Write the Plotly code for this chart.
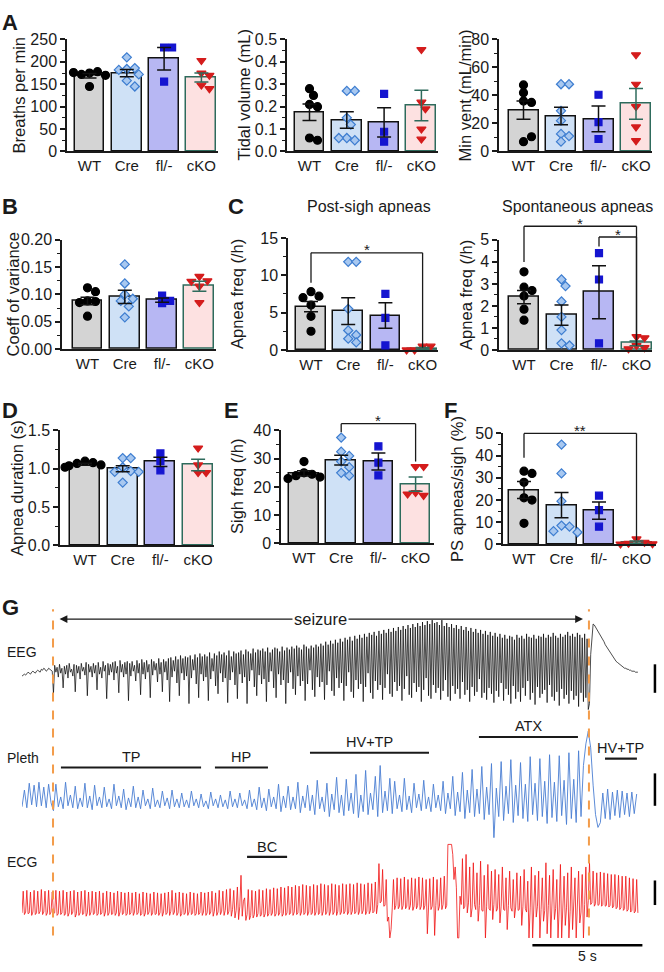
import plotly.graph_objects as go

# ---------------- data ----------------
groups = ["WT", "Cre", "fl/-", "cKO"]

breaths = [[175, 178, 172, 170, 176, 145], [210, 184, 186, 182, 172, 158, 145],
           [232, 232, 156], [203, 175, 170, 148, 140]]
breaths_mean = [169, 175, 207, 165]
breaths_sem = [5, 8, 25, 10]

tidal = [[0.28, 0.25, 0.21, 0.20, 0.06, 0.05], [0.27, 0.27, 0.15, 0.12, 0.06, 0.05, 0.06],
         [0.257, 0.088, 0.044], [0.455, 0.22, 0.19, 0.10, 0.055]]
tidal_mean = [0.175, 0.14, 0.13, 0.205]
tidal_sem = [0.037, 0.037, 0.065, 0.068]

minvent = [[42, 47.5, 36, 35, 7, 10.5], [48, 48, 29, 22, 12.5, 11, 7],
           [40.5, 21, 8.9], [69, 48, 32, 17.5, 7.7]]
minvent_mean = [29.5, 25.3, 23.2, 34]
minvent_sem = [6.5, 6.3, 9.2, 11]

coeff = [[0.112, 0.105, 0.088, 0.087, 0.085, 0.060], [0.155, 0.12, 0.10, 0.092, 0.088, 0.078, 0.058],
         [0.098, 0.088, 0.084], [0.133, 0.125, 0.124, 0.115, 0.085]]
coeff_mean = [0.088, 0.0955, 0.0895, 0.115]
coeff_sem = [0.007, 0.012, 0.004, 0.009]

ps_apnea = [[7.8, 7.2, 7.0, 6.0, 4.5, 2.5], [11.8, 11.8, 5.5, 2.6, 2.0, 1.5, 1.0],
            [7.5, 4.3, 0.6], [0.5, 0.5, 0.0, 0.0, 0.0]]
ps_apnea_mean = [5.8, 5.2, 4.6, 0.2]
ps_apnea_sem = [0.7, 1.8, 1.7, 0.12]

sp_apnea = [[3.55, 2.85, 2.7, 2.45, 1.85, 1.35], [3.2, 2.9, 2.2, 1.5, 0.9, 0.3, 0.2],
            [4.4, 3.2, 0.3], [0.6, 0.55, 0.2, 0.1, 0.05]]
sp_apnea_mean = [2.4, 1.58, 2.62, 0.3]
sp_apnea_sem = [0.3, 0.46, 1.2, 0.11]

duration = [[1.10, 1.08, 1.07, 1.05, 1.04, 1.02], [1.14, 1.14, 1.02, 0.97, 0.96, 0.96, 0.82],
            [1.2, 1.1, 0.98], [1.27, 1.05, 0.95, 0.95]]
duration_mean = [1.06, 1.0, 1.09, 1.05]
duration_sem = [0.013, 0.04, 0.06, 0.075]

sigh = [[29, 25, 24.5, 24, 23.5, 23], [37.5, 32.5, 31, 29, 27, 25, 24],
        [34.4, 28.6, 24.1], [27.2, 27.2, 18, 17, 17.5]]
sigh_mean = [24.8, 29.5, 29, 21]
sigh_sem = [0.9, 1.7, 3, 2.5]

ps_ratio = [[33, 32, 28, 21, 20, 9.5], [45, 32, 19.5, 8.5, 8, 6, 5.5],
            [22, 15.5, 8], [2.5, 1, 0.5, 0.3, 0.2]]
ps_ratio_mean = [24.5, 17.7, 15.2, 1.0]
ps_ratio_sem = [3.8, 5.7, 3.9, 0.5]

# significance: (panel, group a, group b, bracket top, left leg end, right leg end, label)
brackets = [(4, 0, 3, 13.0, 9.0, 0.3, "*"),
            (5, 0, 3, 5.62, 4.0, 0.2, "*"),
            (5, 2, 3, 5.13, 4.7, 0.2, "*"),
            (7, 1, 3, 42.4, 39.4, 29, "*"),
            (8, 0, 3, 50, 39, 2, "**")]

# G: recordings (EEG and ECG sampled every fine_dt, pleth every pleth_dt seconds)
fine_dt = 0.055
pleth_dt = 0.11
eeg = [-2, -1, 0, -1, 1, 2, 1, 0, 2, 3, 2, 1, 3, 4, 3, 2, 5, 4, 6, 5, 3, 4, 6, 5, 4, 3,
       -20, 9, 2, 7, -3, 10, 1, 6, -14, 8, 0, 9, -4, 11, 2, 5,
       -2, 10, -18, 9, 1, 8, -5, 11, 3, 7, -1, 12, -22, 10, 2, 8,
       -3, 11, 1, 9, -16, 12, 0, 7, -4, 13, 3, 9, -25, 11, -1, 10,
       2, 12, -6, 13, 1, 8, -19, 14, 2, 10, -3, 12, 0, 13, -27, 11,
       -2, 13, 3, 9, -7, 14, 1, 11, -21, 15, 0, 12, -5, 14, 2, 10,
       -24, 15, -1, 13, 4, 11, -8, 16, 0, 12, -18, 15, 2, 13, -6, 16,
       -28, 17, -3, 14, 3, 18, -9, 15, -22, 19, 1, 16, -6, 18, -2,
       17, -30, 19, -4, 15, 4, 20, -10, 17, -24, 21, 0, 18, -7, 20,
       -3, 18, -27, 22, -5, 16, 3, 21, -12, 19, -20, 23, 1, 20, -8,
       22, -4, 19, -29, 24, -6, 18, 2, 23, -11, 21, -25, 22, 0, 24,
       -9, 20, -3, 25, -30, 23, -7, 21, 4, 26, -13, 22, -22, 25, -1,
       24, -10, 26, -5, 23, -28, 27, -8, 22, 3, 25, -14, 27, -24, 26,
       0, 23, -11, 28, -6, 24, -30, 27, -9, 25, 2, 28, -15, 26, -21,
       29, -2, 27, -12, 25, -7, 30, -27, 28, -10, 26, 4, 29, -16, 27,
       -23, 30, -3, 28, -13, 31, -8, 29, -26, 33, -11, 30, 3, 34, -17, 31, -22, 35, -4, 32,
       -14, 36, -9, 33, -27, 37, -12, 35, 2, 38, -18, 34, -24, 39, -6, 36, -15, 40, -10, 37,
       -28, 41, -13, 38, 1, 42, -19, 40, -25, 43, -7, 39, -16, 44, -11, 41, -26, 45, -14, 42,
       0, 46, -20, 43, -23, 47, -8, 44, -17, 48, -12, 45, -27, 49, -15, 46, -2, 50, -21, 47,
       -24, 51, -9, 48, -18, 52, -13, 49, -28, 53, -16, 50, -4, 54, -22, 51, -25, 55, -11, 52,
       -19, 53, -14, 50, -26, 55, -17, 49, -6, 52, -23, 48, -27, 51, -12, 47, -20, 50, -15, 46,
       -25, 49, -8, 45, -21, 48, -16, 44, -28, 47, -13, 43, -22, 46, -18, 42, -5, 45, -24, 41,
       -19, 44, -26, 40, -14, 43, -20, 39, -29, 42,
       -17, 38, -23, 41, -9, 37, -27, 40, -15, 36, -21, 39, -30, 38, -12, 35, -25, 40, -18, 37,
       -28, 39, -14, 36, -22, 41, -7, 38, -26, 37, -19, 40, -31, 36, -13, 39, -24, 38, -20, 41,
       -16, 37, -29, 40, -11, 38, -23, 42, -27, 39, -18, 37, -32, 41, -15, 38, -25, 40, -21, 43,
       -30, 39, -17, 41, -26, 38, -22, 42, -33, 40, -19, 37, -28, 41, -24, 36, -36,
       -30, 20, 42, 51, 50, 48, 46, 44, 42, 40, 37, 35, 33, 30, 28, 26, 24, 22, 20, 18,
       16, 15, 13, 12, 11, 10, 9, 8, 7, 6, 6, 5, 5, 4, 4, 3, 3, 3, 2, 2, 2]

pleth = [-2, 15, -3, 22, 0, 20, -2, 23, -1, 18, -3, 21, 2,
         -6, 21, -2, 8, -4, 23, -1, 10, -3, 19, -4, 7, -2, 22, -3, 9, -5, 20, -1, 8,
         -3, 18, -2, 6, -4, 21, -1, 9, -3, 16, -5, 7, -2, 19, -3, 8, -4, 15, -1, 6,
         -4, 17, -2, 5, -3, 14, -1, 7, -4, 15, -2, 6, -3, 12, -2, 5, -3, 14, -1, 6,
         -3, 11, -2, 4, -4, 13, -1, 6, -3, 10, -2, 5, -4, 14, -2, 6, -3, 12, -1, 5,
         -4, 15, -2, 6, -5, 18, -3, 7, -6, 16, -2, 8, -4, 21, -7, 9, -3, 19, -5, 8,
         -4, 23, -8, 9, -3, 20, -6, 10, -10, 25, -4, 8, -7, 22, -12, 11, -5, 28, -8, 10,
         -11, 26, -6, 12, -9, 31, -13, 10, -7, 35, -10, 12, -5, 29, -12, 40, -8, 14, -6, 27,
         -9, 24, -4, 10, -7, 27, -5, 9, -8, 22, -3, 11, -6, 25, -4, 8, -7, 21, -3, 10,
         -6, 24, -9, 12, -4, 29, -11, 13, -7, 33, -14, 15, -8, 36, -12, 16, -9, 39, -15, 18,
         -10, 42, -36, 17, -12, 44, -16, 19, -9, 46, -18, 20, -11, 43, -14, 21, -17, 49, -10, 22,
         -16, 47, -12, 24, -19, 51, -13, 23, -17, 50, -11, 25, -20, 53, -14, 26, -18, 55, -12, 40,
         62, 75, 58, 20, -10, -23, -18, 12, -14, 16, -15, 13, -11, 15, -13, 14, -10, 12, -12, 13, -9, 11]

ecg = [0, 26, -2, 1, 27, -1, 0, 25, -3, 1, 27, -2, 0, 26, -1, 2, 28, -2, 1, 26, -3, 0, 27, -2, 1, 25, -1, 0, 27, -3,
       -1, 26, -2, 0, 27, -3, -1, 25, -4, 0, 26, -2, 1, 27, -5, -1, 25, -3, 0, 26, -2, -1, 27, -4, 0, 25, -3, 1, 26, -2,
       0, 25, -3, -1, 26, -2, 0, 24, -4, 1, 26, -3, 0, 25, -2, -1, 24, -3, 0, 26, -4, 1, 25, -2, 0, 24, -3, -1, 25, -2,
       0, 24, -3, 1, 25, -2, 0, 23, -3, -1, 25, -4, 0, 24, -2, 1, 23, -3, 0, 25, -2, -1, 24, -3, 0, 23, -4, 1, 24, -2,
       0, 25, -3, 2, 27, -2, 1, 24, -3, 0, 25, -4, -1, 24, -2, 0, 23, -3, 1, 25, -2, 0, 24, -3, -1, 23, -2, 0, 25, -3,
       1, 24, -3, 0, 25, -2, 1, 26, -4, 2, 24, -3, 1, 27, -2, 2, 26, -3, 3, 28, -2, 2, 29, -4, 4, 27, -6, 3, 31, -8,
       8, 45, -4, 14, 18, -9, -2, 28, -8, -3, 27, -6, -2, 26, -5, -1, 28, -4, -2, 27, -5, -1, 29, -4, -1, 28, -3, 0, 30, -4,
       -1, 29, -3, 0, 31, -4, -1, 30, -3, 0, 32, -2, 0, 31, -3, 1, 33, -2, 0, 32, -3, 1, 34, -2, 0, 33, -3, 1, 32, -2,
       0, 34, -3, 1, 33, -2, 0, 35, -3, 2, 34, -2, 1, 33, -3, 2, 35, -2, 1, 34, -3, 2, 33, -2, 1, 35, -1, 2, 34, -2,
       1, 35, -2, 2, 34, -1, 1, 36, -2, 2, 35, -1, 3, 34, -2, 2, 36, -1, 3, 35, 0, 2, 37, -1, 10, 59, 12, 14, 52, 8,
       9, 40, -10, -5, -30, -20, 6, 40, 4, 9, 42, 5, 8, 41, 4, 9, 43, 5, 8, 40, 4, 9, 42, 3, 8, 41, 5, 9, 43, 4,
       8, 42, 4, 9, 40, -25, 7, 41, 4, 8, 43, -27, 9, 40, 3, 8, 42, 4, 10, 44, 5, 9, 82, 82, 82, 82, 70, 40, 55, 30,
       -30, -30, 20, 10, 65, 5, 8, 70, 0, 12, 55, -5, 6, 60, 10, 4, 48, -10, 9, 62, 3, 2, 45, -30, 8, 58, 5, 3, 50, -8,
       10, 52, 2, 5, 46, -12, 8, 55, 4, 3, 42, -20, 9, 50, 6, 2, 40, -6, 7, 48, 3, 4, 44, -15, 8, 52, 5, 1, 38, -30,
       6, 55, -30, 2, 45, -5, 8, 50, -30, 4, 42, -10, 3, 60, -25, 9, 45, -30, 2, 52, -8, 5, 40, -30, 7, 58, -30, 3, 44, -15,
       6, 48, -30, 2, 55, -20, 8, 42, -30, 4, 50, -12, 1, 46, -30, 10, 55, -5, 15, 60, 10, 12, 50, 8, 11, 48, 9, 10, 49, 8,
       10, 48, 8, 9, 47, 7, 9, 46, 6, 8, 46, 5, 7, 45, 4, 6, 44, 3, 5, 44, 2, 4, 42, 1, 3, 41, 0, 2, 40, 0]

seizure_on, seizure_off = 1.41, 25.77          # s
pattern_names = ["TP", "HP", "HV+TP", "ATX", "HV+TP"]
pattern_start = [1.77, 8.77, 13.09, 20.77, 26.5]
pattern_end = [8.14, 11.18, 18.5, 25.27, 27.95]
bc_start, bc_end = 10.23, 12.05
time_bar = 5  # s

# ---------------- look ----------------
W, H = 664, 972
FONT = "Liberation Sans, Arial, sans-serif"
INK = "#1a1a1a"
bar_fill = ["#d4d4d4", "#cfe1f6", "#b7b7f3", "#fde1e1"]
bar_edge = ["#111111", "#111111", "#111111", "#2e6b5c"]
pt_symbol = ["circle", "diamond", "square", "triangle-down"]
pt_fill = ["#000000", "#a8c8f0", "#1515d0", "#d41c1c"]
pt_edge = ["#000000", "#3d7dd0", "#1515d0", "#d41c1c"]
pt_size = [8, 7, 7, 8]


def fx(p):
    return p / W


def fy(p):
    return 1 - p / H


def page_text(text, x, y, size, angle=0, anchor="center", bold=False):
    return dict(text="<b>%s</b>" % text if bold else text, x=fx(x), y=fy(y), xref="paper", yref="paper",
                xanchor=anchor, yanchor="middle", textangle=angle, showarrow=False,
                font=dict(size=size, color=INK))


# geometry in page px: axis left, first bar centre, bar step, axis right, top, bottom; title x
panels = [
    dict(d=breaths, m=breaths_mean, s=breaths_sem, ymax=250, dt=50, fmt="d", t="Breaths per min", g=(67, 89.5, 37.3, 218, 32, 146), tx=19),
    dict(d=tidal, m=tidal_mean, s=tidal_sem, ymax=0.5, dt=0.1, fmt=".1f", t="Tidal volume (mL)", g=(287, 309.5, 37.3, 438, 32, 146), tx=244),
    dict(d=minvent, m=minvent_mean, s=minvent_sem, ymax=80, dt=20, fmt="d", t="Min vent (mL/min)", g=(499, 523.5, 37.5, 652, 32, 146), tx=465),
    dict(d=coeff, m=coeff_mean, s=coeff_sem, ymax=0.2, dt=0.05, fmt=".2f", t="Coeff of variance", g=(62, 87.5, 37.3, 216, 236, 347), tx=13),
    dict(d=ps_apnea, m=ps_apnea_mean, s=ps_apnea_sem, ymax=15, dt=5, fmt="d", t="Apnea freq (/h)", g=(288, 311, 37.2, 438, 234, 348), tx=237),
    dict(d=sp_apnea, m=sp_apnea_mean, s=sp_apnea_sem, ymax=5, dt=1, fmt="d", t="Apnea freq (/h)", g=(499, 524, 37.5, 652, 236, 348), tx=466),
    dict(d=duration, m=duration_mean, s=duration_sem, ymax=1.5, dt=0.5, fmt=".1f", t="Apnea duration (s)", g=(60, 85, 37.7, 214, 430, 547), tx=17),
    dict(d=sigh, m=sigh_mean, s=sigh_sem, ymax=40, dt=10, fmt="d", t="Sigh freq (/h)", g=(281, 304, 37.2, 434, 430, 545), tx=237),
    dict(d=ps_ratio, m=ps_ratio_mean, s=ps_ratio_sem, ymax=50, dt=10, fmt="d", t="PS apneas/sigh (%)", g=(503, 524, 37.5, 656, 433, 546), tx=457),
]


def swarm(vals, ppy, ppx, gap=7.5):
    placed, offs = [], []
    for v in vals:
        y = v * ppy
        for c in (0, 4, -4, 8, -8, 12, -12, 16, -16, 20, -20):
            if all((c - a) ** 2 + (y - b) ** 2 >= gap ** 2 for a, b in placed):
                break
        placed.append((c, y))
        offs.append(c / ppx)
    return offs


fig = go.Figure()
layout = {}
shapes, notes = [], []

for k, p in enumerate(panels):
    n = "" if k == 0 else str(k + 1)
    xa, ya = "x" + n, "y" + n
    left, c0, step, right, top, bottom = p["g"]
    ppy = (bottom - top) / p["ymax"]

    fig.add_trace(go.Bar(x=[0, 1, 2, 3], y=p["m"], width=0.8, xaxis=xa, yaxis=ya,
                         marker=dict(color=bar_fill, line=dict(color=bar_edge, width=1.5))))
    for g in range(4):
        offs = swarm(p["d"][g], ppy, step)
        fig.add_trace(go.Scatter(x=[g + o for o in offs], y=p["d"][g], mode="markers", cliponaxis=False,
                                 xaxis=xa, yaxis=ya,
                                 marker=dict(symbol=pt_symbol[g], size=pt_size[g], color=pt_fill[g],
                                             line=dict(color=pt_edge[g], width=1.2))))
    for g in range(4):
        fig.add_trace(go.Scatter(x=[g], y=[p["m"][g]], mode="markers", xaxis=xa, yaxis=ya,
                                 marker=dict(size=2, opacity=0),
                                 error_y=dict(type="data", array=[p["s"][g]], color=bar_edge[g],
                                              thickness=1.5, width=7)))

    layout["xaxis" + n] = dict(domain=[fx(left), fx(right)], range=[(left - c0) / step, (right - c0) / step],
                               anchor=ya, showline=True, linecolor=INK, linewidth=1.5, ticks="",
                               tickvals=[0, 1, 2, 3], ticktext=groups, tickfont=dict(size=15, color=INK),
                               showgrid=False, zeroline=False)
    layout["yaxis" + n] = dict(domain=[fy(bottom), fy(top)], range=[0, p["ymax"]], anchor=xa,
                               showline=True, linecolor=INK, linewidth=1.5, ticks="outside", ticklen=5,
                               tickwidth=1.5, tickcolor=INK, dtick=p["dt"], tickformat=p["fmt"],
                               tickfont=dict(size=16, color=INK), showgrid=False, zeroline=False,
                               minor=dict(ticks="outside", ticklen=3, tickwidth=1.2, tickcolor=INK,
                                          dtick=p["dt"] / 2))
    notes.append(page_text(p["t"], p["tx"], (top + bottom) / 2, 16.5, angle=-90))

# significance brackets
for k, a, b, top_v, la, lb, lab in brackets:
    n = "" if k == 0 else str(k + 1)
    left, c0, step, right, top, bottom = panels[k]["g"]
    ppy = (bottom - top) / panels[k]["ymax"]

    def py(v):
        return fy(bottom - v * ppy)

    line = dict(color=INK, width=1.3)
    shapes += [dict(type="line", xref="x" + n, yref="paper", x0=a, x1=b, y0=py(top_v), y1=py(top_v), line=line),
               dict(type="line", xref="x" + n, yref="paper", x0=a, x1=a, y0=py(top_v), y1=py(la), line=line),
               dict(type="line", xref="x" + n, yref="paper", x0=b, x1=b, y0=py(top_v), y1=py(lb), line=line)]
    notes.append(dict(text=lab, x=(a + b) / 2, y=fy(bottom - top_v * ppy - 3), xref="x" + n, yref="paper",
                      showarrow=False, xanchor="center", yanchor="middle", font=dict(size=15, color=INK)))

# panel letters and C titles
for lab, x, y in [("A", 10, 15), ("B", 10, 202), ("C", 236, 202), ("D", 10, 410),
                  ("E", 231, 410), ("F", 450, 410), ("G", 10, 610)]:
    notes.append(page_text(lab, x, y, 22, bold=True))
notes.append(page_text("Post-sigh apneas", 369, 202, 16))
notes.append(page_text("Spontaneous apneas", 577, 202, 16))

# ---------------- G: recordings ----------------
eeg_t = [i * fine_dt for i in range(len(eeg))]
ecg_t = [i * fine_dt for i in range(len(ecg))]
pleth_t = [i * pleth_dt for i in range(len(pleth))]

fig.add_trace(go.Scatter(x=eeg_t, y=eeg, mode="lines", line=dict(color="#000000", width=0.7),
                         xaxis="x10", yaxis="y10"))
fig.add_trace(go.Scatter(x=pleth_t, y=pleth, mode="lines", line=dict(color="#4a7ed2", width=0.9),
                         xaxis="x10", yaxis="y11"))
fig.add_trace(go.Scatter(x=ecg_t, y=ecg, mode="lines", line=dict(color="#f01414", width=0.8),
                         xaxis="x10", yaxis="y12"))

hidden = dict(visible=False, showgrid=False, zeroline=False)
layout["xaxis10"] = dict(domain=[fx(22), fx(660)], range=[0, 29], anchor="y10", **hidden)
layout["yaxis10"] = dict(domain=[fy(723), fy(616)], range=[-45, 62], anchor="x10", **hidden)    # EEG
layout["yaxis11"] = dict(domain=[fy(856), fy(731)], range=[-45, 80], anchor="x10", **hidden)    # Pleth
layout["yaxis12"] = dict(domain=[fy(950.75), fy(844.5)], range=[-35, 90], anchor="x10", **hidden)  # ECG

orange = dict(color="#f39c4a", width=2, dash="dash")
for t0 in (seizure_on, seizure_off):
    shapes.append(dict(type="line", xref="x10", yref="paper", x0=t0, x1=t0, y0=fy(944), y1=fy(612),
                       line=orange))

# seizure arrow
notes.append(dict(x=seizure_off - 0.27, y=fy(622), xref="x10", yref="paper", ax=seizure_on + 0.23, ay=0,
                  axref="x10", ayref="pixel", text="", showarrow=True, arrowhead=2, arrowside="end+start",
                  arrowsize=1.2, arrowwidth=1.3, arrowcolor=INK))
notes.append(dict(text="seizure", x=(seizure_on + seizure_off) / 2, y=fy(622), xref="x10", yref="paper",
                  xanchor="center", yanchor="middle", showarrow=False, bgcolor="#ffffff",
                  font=dict(size=16.5, color=INK)))

# breathing pattern bars
pattern_rows = [773, 773, 758, 742, 764]
for name, t0, t1, row in zip(pattern_names, pattern_start, pattern_end, pattern_rows):
    shapes.append(dict(type="line", xref="x10", yref="paper", x0=t0, x1=t1, y0=fy(row), y1=fy(row),
                       line=dict(color=INK, width=2.2)))
    notes.append(dict(text=name, x=(t0 + t1) / 2, y=fy(row - 11), xref="x10", yref="paper",
                      xanchor="center", yanchor="middle", showarrow=False, font=dict(size=14.5, color=INK)))
shapes.append(dict(type="line", xref="x10", yref="paper", x0=bc_start, x1=bc_end, y0=fy(864), y1=fy(864),
                   line=dict(color=INK, width=2.2)))
notes.append(dict(text="BC", x=(bc_start + bc_end) / 2, y=fy(854), xref="x10", yref="paper",
                  xanchor="center", yanchor="middle", showarrow=False, font=dict(size=14.5, color=INK)))

# trace labels
for lab, y in [("EEG", 655), ("Pleth", 763), ("ECG", 869)]:
    notes.append(page_text(lab, 5, y, 14, anchor="left"))

# scale bars
for y0, y1 in [(668, 697), (779, 812), (888, 913)]:
    shapes.append(dict(type="line", xref="x10", yref="paper", x0=28.77, x1=28.77, y0=fy(y0), y1=fy(y1),
                       line=dict(color="#000000", width=2.5)))
shapes.append(dict(type="line", xref="x10", yref="paper", x0=28.2 - time_bar, x1=28.2, y0=fy(954), y1=fy(954),
                   line=dict(color="#000000", width=2.5)))
notes.append(dict(text="%d s" % time_bar, x=28.2 - time_bar / 2, y=fy(965), xref="x10", yref="paper",
                  xanchor="center", yanchor="middle", showarrow=False, font=dict(size=14, color=INK)))

fig.update_layout(width=W, height=H, margin=dict(l=0, r=0, t=0, b=0), showlegend=False, hovermode=False,
                  paper_bgcolor="#ffffff", plot_bgcolor="#ffffff", bargap=0,
                  font=dict(family=FONT, color=INK), shapes=shapes, annotations=notes, **layout)

# page body without the browser's default margin, so the figure sits at the window origin
fig.write_html("out.html", config={"displayModeBar": False},
               post_script="document.body.style.margin='0';document.body.style.overflow='hidden';")
